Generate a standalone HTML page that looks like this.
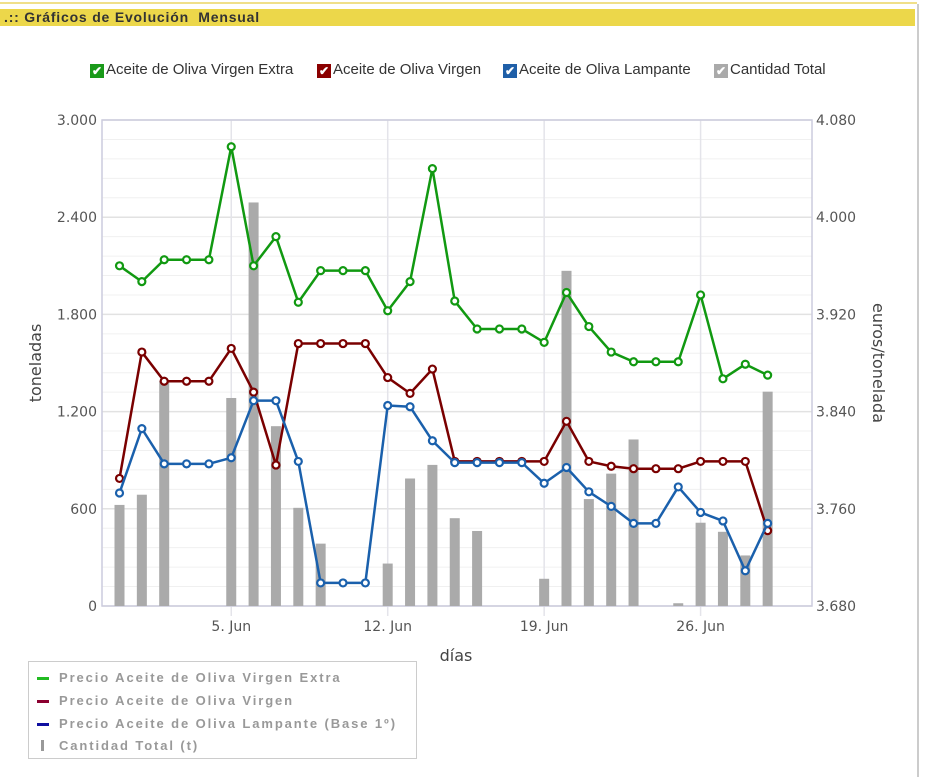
<!DOCTYPE html>
<html><head><meta charset="utf-8">
<style>
body{margin:0;width:929px;height:777px;background:#fff;overflow:hidden;font-family:"DejaVu Sans","Liberation Sans",sans-serif;}
#topline{position:absolute;left:0;top:2px;width:917px;height:2px;background:#f0e08a;}
#header{position:absolute;left:0;top:9px;width:915px;height:17px;background:#ecd74a;font:bold 14px "Liberation Sans",sans-serif;color:#333;line-height:17px;padding-left:4px;box-sizing:border-box;letter-spacing:0.8px}
#rborder{position:absolute;left:917px;top:4px;width:2px;height:773px;background:#ccc;}
.cb{position:absolute;top:61px;font:15px "Liberation Sans",sans-serif;color:#333;white-space:nowrap;cursor:pointer}
.cb span.box{display:inline-block;width:14px;height:14px;vertical-align:-1px;margin-right:2px;color:#fff;font-size:12px;line-height:14px;text-align:center;font-weight:bold}
#legend{position:absolute;left:28px;top:661px;width:389px;height:98px;border:1px solid #ccc;box-sizing:border-box;font:bold 13px "Liberation Sans",sans-serif;color:#999;letter-spacing:1.9px}
.li{position:absolute;left:8px;white-space:nowrap;cursor:pointer}
.li i{display:inline-block;width:12px;height:3px;margin-right:10px;vertical-align:2px}
</style></head><body>
<div id="topline"></div>
<div id="header">.:: Gráficos de Evolución&nbsp; Mensual</div>
<div id="rborder"></div>
<div class="cb" style="left:90px"><span class="box" style="background:#1a9a1a">✔</span>Aceite de Oliva Virgen Extra</div>
<div class="cb" style="left:317px"><span class="box" style="background:#8b0000">✔</span>Aceite de Oliva Virgen</div>
<div class="cb" style="left:503px"><span class="box" style="background:#1f5fa8">✔</span>Aceite de Oliva Lampante</div>
<div class="cb" style="left:714px"><span class="box" style="background:#aaa">✔</span>Cantidad Total</div>

<svg id="chart" width="929" height="777" style="position:absolute;left:0;top:0"></svg>

<div id="legend">
<div class="li" style="top:8px"><i style="background:#22bb22"></i>Precio Aceite de Oliva Virgen Extra</div>
<div class="li" style="top:31px"><i style="background:#8b0030"></i>Precio Aceite de Oliva Virgen</div>
<div class="li" style="top:54px"><i style="background:#1010a0"></i>Precio Aceite de Oliva Lampante (Base 1º)</div>
<div class="li" style="top:76px"><i style="background:#999;width:3px;height:11px;vertical-align:-1px;margin-left:4px;margin-right:15px"></i>Cantidad Total (t)</div>
</div>

<script>
const days = [0,1,2,3,4,5,6,7,8,9,10,11,12,13,14,15,16,17,18,19,20,21,22,23,24,25,26,27,28,29];
const xTickDays = [5,12,19,26];
const xTickLabels = ["5. Jun","12. Jun","19. Jun","26. Jun"];
const leftTicks = [0,600,1200,1800,2400,3000];
const leftTickLabels = ["0","600","1.200","1.800","2.400","3.000"];
const rightTicks = [3680,3760,3840,3920,4000,4080];
const rightTickLabels = ["3.680","3.760","3.840","3.920","4.000","4.080"];
const cantidad = [624,687,1390,0,0,1284,2491,1110,606,385,0,0,262,787,871,542,463,0,0,168,2069,660,817,1028,0,17,514,458,312,1323];
const virgenExtra = [3960,3947,3965,3965,3965,4058,3960,3984,3930,3956,3956,3956,3923,3947,4040,3931,3908,3908,3908,3897,3938,3910,3889,3881,3881,3881,3936,3867,3879,3870];
const virgen = [3785,3889,3865,3865,3865,3892,3856,3796,3896,3896,3896,3896,3868,3855,3875,3799,3799,3799,3799,3799,3832,3799,3795,3793,3793,3793,3799,3799,3799,3742];
const lampante = [3773,3826,3797,3797,3797,3802,3849,3849,3799,3699,3699,3699,3845,3844,3816,3798,3798,3798,3798,3781,3794,3774,3762,3748,3748,3778,3757,3750,3709,3748];

const svg = document.getElementById('chart');
const NS = 'http://www.w3.org/2000/svg';
const L=102, R=812, T=120, B=606;
const x0=119.5, step=22.35;
function xs(d){return x0 + d*step;}
function yl(v){return B - (v-0)/(3000-0)*(B-T);}
function yr(v){return B - (v-3680)/(4080-3680)*(B-T);}
function mk(tag, attrs){const e=document.createElementNS(NS,tag);for(const k in attrs)e.setAttribute(k,attrs[k]);svg.appendChild(e);return e;}

for(let v=0; v<=3000; v+=120){
  const g=mk('line',{x1:L,x2:R,y1:yl(v),y2:yl(v),stroke:'#f0f0f0','stroke-width':1});
  
  
}
leftTicks.forEach((v,i)=>{
  const g=mk('line',{x1:L,x2:R,y1:yl(v),y2:yl(v),stroke:'#e2e2e2','stroke-width':1.5});
  
  
  const t=mk('text',{x:L-5,y:yl(v)+5,'text-anchor':'end','font-size':'14',fill:'#555'});
  t.textContent=leftTickLabels[i];
  
  
});
rightTicks.forEach((v,i)=>{
  const t=mk('text',{x:R+4,y:yr(v)+5,'text-anchor':'start','font-size':'14',fill:'#555'});
  t.textContent=rightTickLabels[i];
  
  
});
xTickDays.forEach((d,i)=>{
  const g=mk('line',{x1:xs(d),x2:xs(d),y1:T,y2:B+10,stroke:'#e4e4ea','stroke-width':1.5});
  
  
  const t=mk('text',{x:xs(d),y:B+25,'text-anchor':'middle','font-size':'14',fill:'#555'});
  t.textContent=xTickLabels[i];
  
  
});
const frame=mk('rect',{x:L,y:T,width:R-L,height:B-T,fill:'none',stroke:'#ccd',"stroke-width":1.5});



cantidad.forEach((v,i)=>{
  if(v<=0) return;
  const b=mk('rect',{x:xs(days[i])-5,y:yl(v),width:10,height:B-yl(v),fill:'#aaaaaa'});
  
  
});
function line(vals,color,name){
  const pts=vals.map((v,i)=>xs(days[i])+','+yr(v)).join(' ');
  const p=mk('polyline',{points:pts,fill:'none',stroke:color,'stroke-width':2.5,'stroke-linejoin':'round'});
  
  
  vals.forEach((v,i)=>{
    const c=mk('circle',{cx:xs(days[i]),cy:yr(v),r:3.5,fill:'#fff',stroke:color,'stroke-width':2.2});
    
    
  });
}
line(virgenExtra,'#119911','virgen-extra');
line(virgen,'#7a0000','virgen');
line(lampante,'#1a60ac','lampante');

const ty=mk('text',{x:0,y:0,'font-size':'16',fill:'#444','text-anchor':'middle',transform:'translate(41,363) rotate(-90)'});
ty.textContent='toneladas';


const tr=mk('text',{x:0,y:0,'font-size':'16',fill:'#444','text-anchor':'middle',transform:'translate(873,363) rotate(90)'});
tr.textContent='euros/tonelada';


const tx=mk('text',{x:456,y:661,'font-size':'16',fill:'#444','text-anchor':'middle'});
tx.textContent='días';


</script>
</body></html>
